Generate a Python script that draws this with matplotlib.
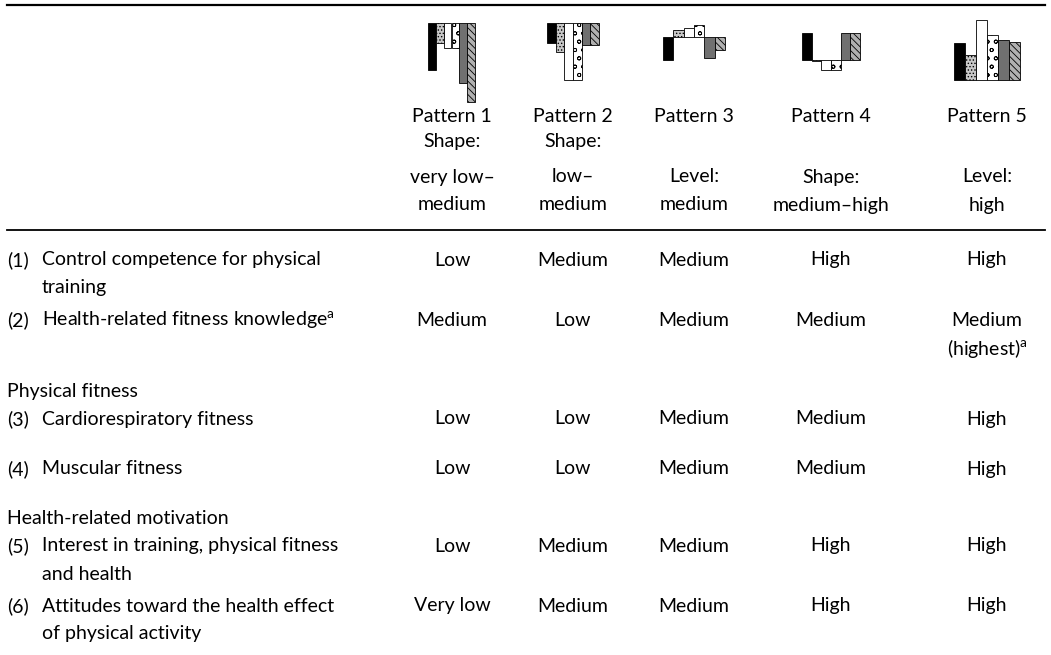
import matplotlib
matplotlib.use("Agg")
import matplotlib.pyplot as plt

plt.rcParams['font.family'] = ['Lato', 'DejaVu Sans']
plt.rcParams['mathtext.fontset'] = 'custom'
plt.rcParams['mathtext.rm'] = 'Lato'
plt.rcParams['hatch.linewidth'] = 0.6

# DATOS
patterns = ["Pattern 1", "Pattern 2", "Pattern 3", "Pattern 4", "Pattern 5"]
subtitles = [["Shape:", "very low\u2013", "medium"],
             ["Shape:", "low\u2013", "medium"],
             ["", "Level:", "medium"],
             ["", "Shape:", "medium\u2013high"],
             ["", "Level:", "high"]]

# desviaciones de cada variable (1)-(6) respecto a la media, por patron
glyph_p1 = [-47, -20, -25, -25, -60, -79]
glyph_p2 = [-20, -29, -57, -57, -22, -22]
glyph_p3 = [-23, 7, 9, 12, -21, -13]
glyph_p4 = [27, -1, -10, -10, 27, 27]
glyph_p5 = [37, 25, 60, 45, 40, 38]
glyphs = [glyph_p1, glyph_p2, glyph_p3, glyph_p4, glyph_p5]

row_nums = ["(1)", "(2)", "(3)", "(4)", "(5)", "(6)"]
row_labels = [["Control competence for physical", "training"],
              ["Health-related fitness knowledge$^{\\mathrm{a}}$"],
              ["Cardiorespiratory fitness"],
              ["Muscular fitness"],
              ["Interest in training, physical fitness", "and health"],
              ["Attitudes toward the health effect", "of physical activity"]]
groups = ["Physical fitness", "Health-related motivation"]

levels = [["Low", "Medium", "Medium", "High", "High"],
          ["Medium", "Low", "Medium", "Medium", "Medium\n(highest)$^{\\mathrm{a}}$"],
          ["Low", "Low", "Medium", "Medium", "High"],
          ["Low", "Low", "Medium", "Medium", "High"],
          ["Low", "Medium", "Medium", "High", "High"],
          ["Very low", "Medium", "Medium", "High", "High"]]

# ESTILO / POSICIONES (pixeles)
col_x = [452, 573, 694, 831, 987]
glyph_span = [(428, 475), (547, 599), (663, 725), (802, 860), (954, 1020)]
glyph_base = [23, 23, 37, 60, 80]
bar_styles = [dict(color='black'),
              dict(color='#c8c8c8', hatch='.....'),
              dict(color='white'),
              dict(color='white', hatch='oo'),
              dict(color='#707070'),
              dict(color='#b0b0b0', hatch='\\\\\\\\\\')]
row_y = [260, 320, 419, 469, 546, 606]
group_y = [392, 519]
line_h = 28
fs = 14

fig = plt.figure(figsize=(10.51, 6.55), dpi=100)
ax = fig.add_axes([0, 0, 1, 1])
ax.set_xlim(0, 1051)
ax.set_ylim(655, 0)
ax.axis('off')

# reglas
ax.plot([7, 1045], [5, 5], color='black', lw=1.6)
ax.plot([7, 1045], [230, 230], color='black', lw=1.3)

# glifos de barras
for g, vals in enumerate(glyphs):
    x0, x1 = glyph_span[g]
    w = (x1 - x0) / len(vals)
    for i, v in enumerate(vals):
        st = bar_styles[i]
        ax.bar(x0 + w * (i + 0.5), -v, width=w, bottom=glyph_base[g],
               facecolor=st['color'], hatch=st.get('hatch'),
               edgecolor='black', linewidth=0.6)

# cabeceras
header_y = [142, 177, 205]
for c, name in enumerate(patterns):
    ax.text(col_x[c], 117, name, ha='center', va='center', fontsize=fs)
    for k, s in enumerate(subtitles[c]):
        if s:
            ax.text(col_x[c], header_y[k], s, ha='center', va='center', fontsize=fs)

# filas
for r in range(len(row_nums)):
    y = row_y[r]
    ax.text(7, y, row_nums[r], ha='left', va='center', fontsize=fs)
    for k, s in enumerate(row_labels[r]):
        ax.text(42, y + k * line_h, s, ha='left', va='center', fontsize=fs)
    for c in range(5):
        parts = levels[r][c].split('\n')
        for k, s in enumerate(parts):
            ax.text(col_x[c], y + k * line_h, s, ha='center', va='center', fontsize=fs)

for g, name in enumerate(groups):
    ax.text(7, group_y[g], name, ha='left', va='center', fontsize=fs)

fig.savefig('out.png', dpi=100)
